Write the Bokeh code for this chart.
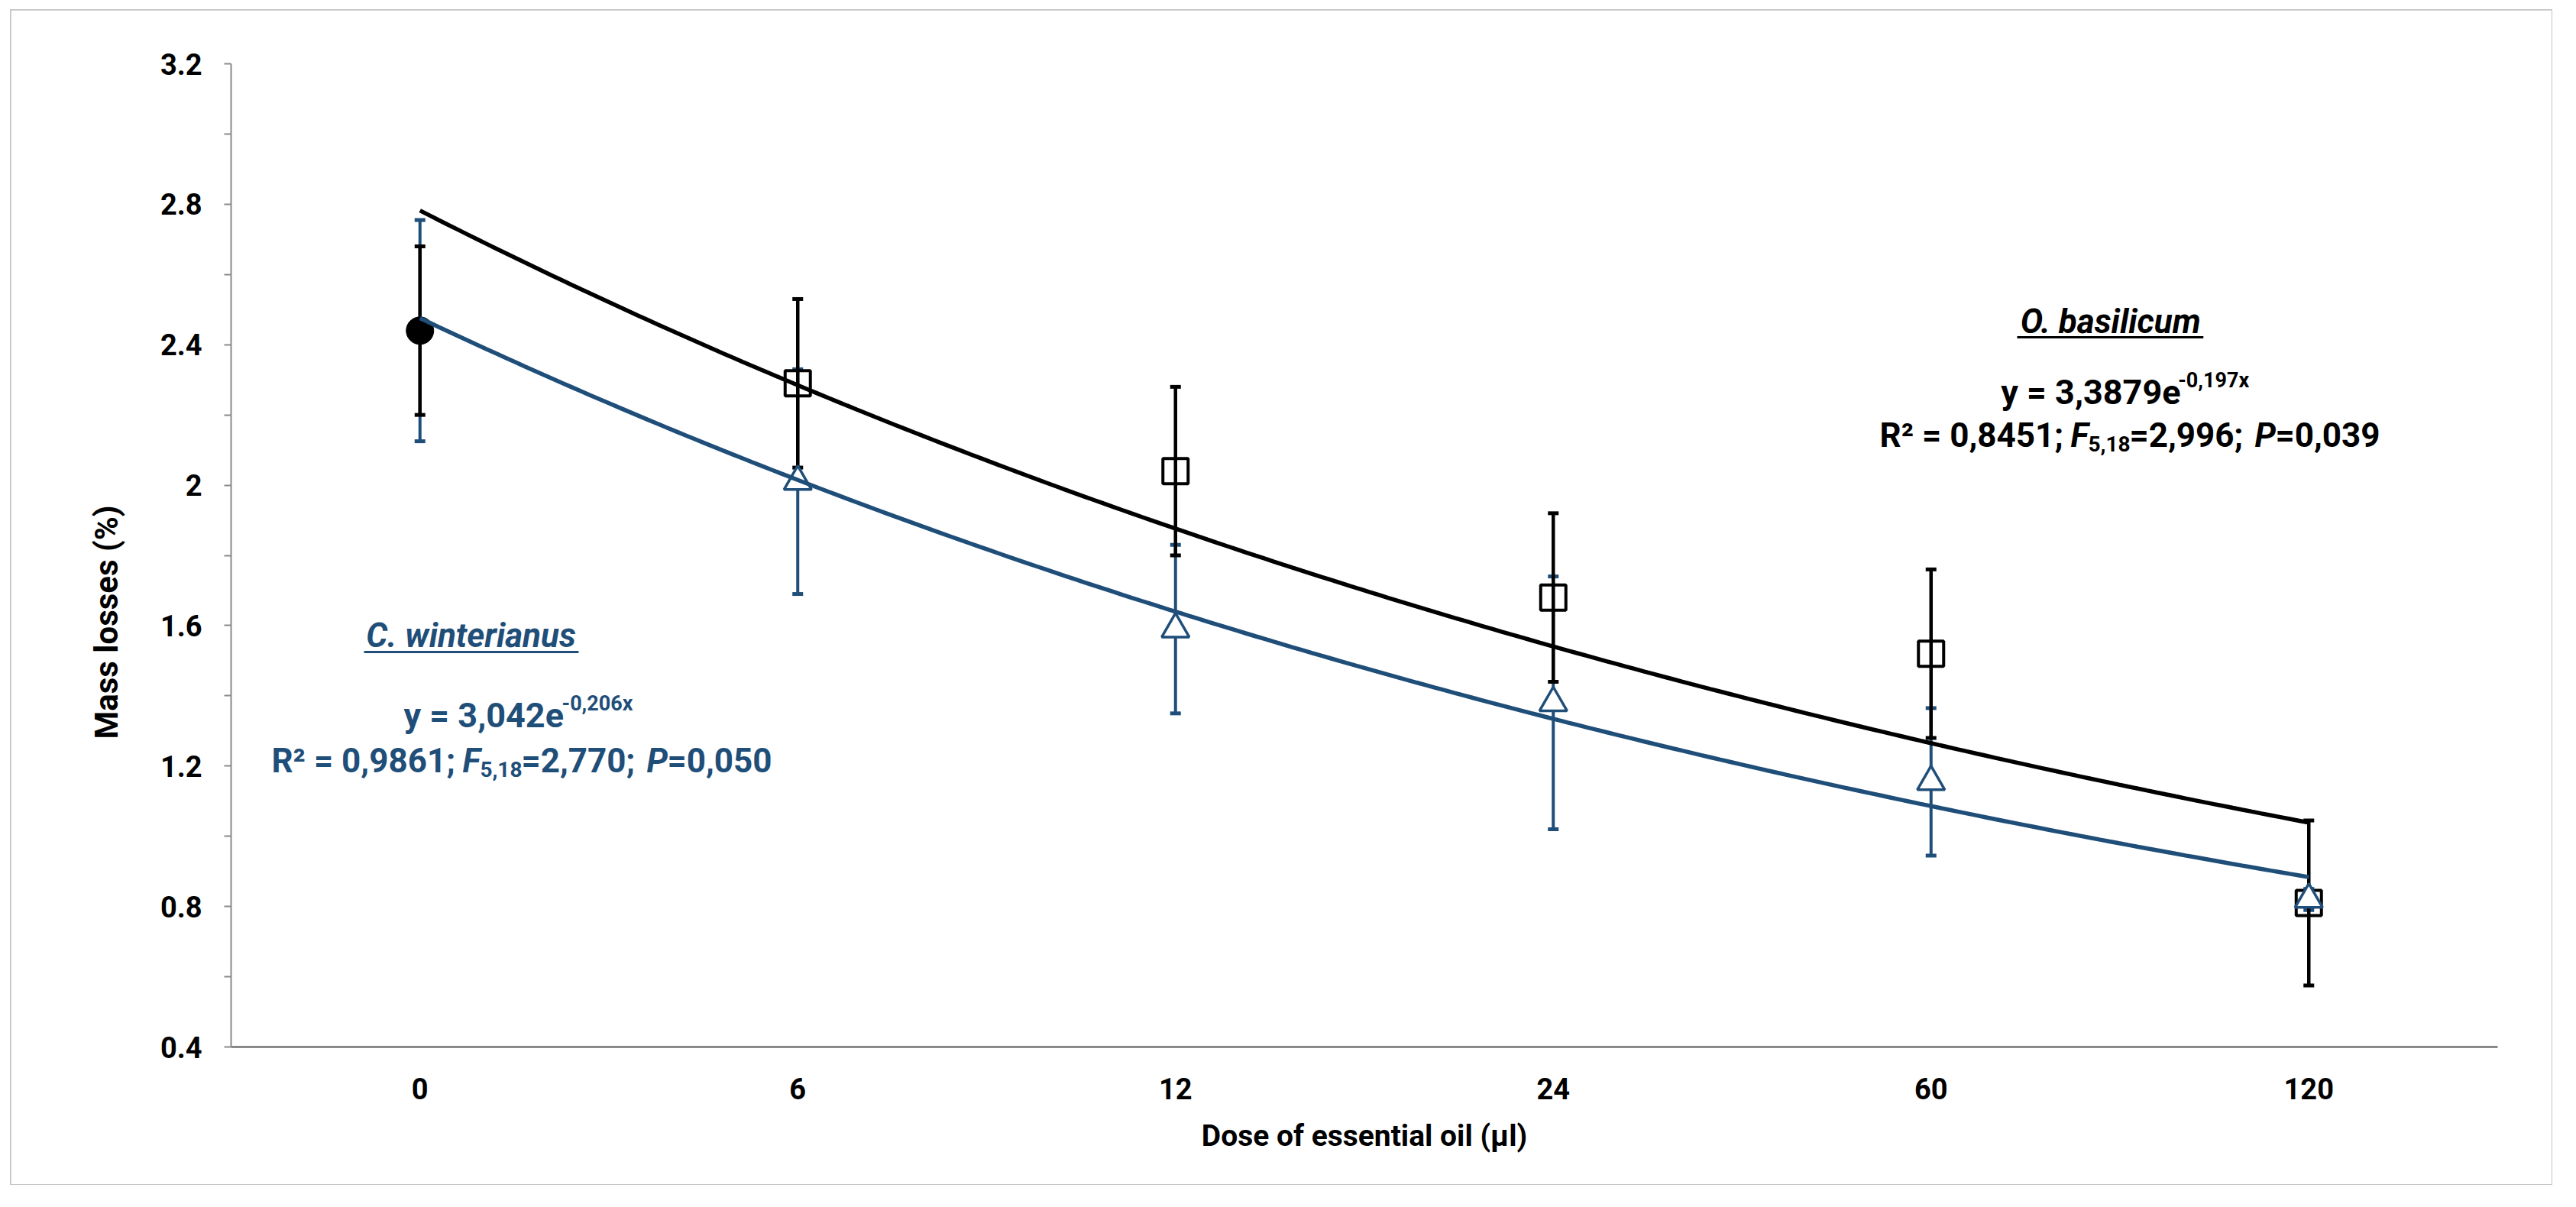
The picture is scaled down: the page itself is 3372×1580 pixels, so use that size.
import numpy as np
from bokeh.plotting import figure
from bokeh.models import Range1d, FixedTicker, Whisker, TeeHead, ColumnDataSource, Title
from bokeh.core.properties import value
from bokeh.embed import file_html
from bokeh.resources import INLINE

# ---------------- data ----------------
doses = ["0", "6", "12", "24", "60", "120"]          # tick labels (Excel category axis)
cat_pos = [1, 2, 3, 4, 5, 6]                          # category index used by the Excel trendline
basil_mean = [2.44, 2.29, 2.04, 1.68, 1.52, 0.81]     # O. basilicum
basil_err = [0.24, 0.24, 0.24, 0.24, 0.24, 0.235]
citro_mean = [2.44, 2.01, 1.59, 1.38, 1.155, 0.82]    # C. winterianus
citro_err = [0.315, 0.32, 0.24, 0.36, 0.21, 0.03]
basil_fit = [3.3879, -0.197]                          # y = a*exp(b*x) as printed
citro_fit = [3.042, -0.206]
y_ticks = [0.4, 0.8, 1.2, 1.6, 2, 2.4, 2.8, 3.2]
y_minor = [0.6, 1.0, 1.4, 1.8, 2.2, 2.6, 3.0]

BLUE = "#1F4E79"
AXIS = "#8a8a8a"
FONT = "Roboto"

p = figure(width=3326, height=1537, x_range=Range1d(0.5, 6.5), y_range=Range1d(0.4, 3.2),
           output_backend="svg", toolbar_location=None,
           min_border_left=288, min_border_right=71, min_border_top=70, min_border_bottom=180)
p.margin = (13, 0, 0, 14)
p.styles = {"outline": "3px solid #c4c4c4", "outline-offset": "-2px"}
p.xgrid.visible = False
p.ygrid.visible = False
p.outline_line_color = None
p.background_fill_color = "white"
p.border_fill_color = "white"

# y axis
p.yaxis.ticker = FixedTicker(ticks=y_ticks, minor_ticks=y_minor)
p.yaxis.major_label_overrides = {t: str(t) for t in y_ticks}
p.yaxis.axis_line_color = AXIS
p.yaxis.axis_line_width = 2
p.yaxis.major_tick_line_color = AXIS
p.yaxis.minor_tick_line_color = AXIS
p.yaxis.major_tick_line_width = 2
p.yaxis.minor_tick_line_width = 2
p.yaxis.major_tick_out = 9
p.yaxis.major_tick_in = 0
p.yaxis.minor_tick_out = 9
p.yaxis.minor_tick_in = 0
p.yaxis.major_label_standoff = 29
p.yaxis.major_label_text_font = FONT
p.yaxis.major_label_text_font_style = "bold"
p.yaxis.major_label_text_font_size = "38px"
p.yaxis.major_label_text_color = "black"

# x axis
p.xaxis.ticker = FixedTicker(ticks=cat_pos, minor_ticks=[])
p.xaxis.major_label_overrides = {k: d for k, d in zip(cat_pos, doses)}
p.xaxis.axis_line_color = AXIS
p.xaxis.axis_line_width = 3
p.xaxis.major_tick_out = 0
p.xaxis.major_tick_in = 0
p.xaxis.minor_tick_line_color = None
p.xaxis.major_label_standoff = 40
p.xaxis.major_label_text_font = FONT
p.xaxis.major_label_text_font_style = "bold"
p.xaxis.major_label_text_font_size = "38px"
p.xaxis.major_label_text_color = "black"
p.xaxis.axis_label = "Dose of essential oil (µl)"
p.xaxis.axis_label_text_font = FONT
p.xaxis.axis_label_text_font_style = "bold"
p.xaxis.axis_label_text_font_size = "39px"
p.xaxis.axis_label_text_color = "black"
p.xaxis.axis_label_standoff = 22

# y axis title, placed like the original (below the axis centre)
p.add_layout(Title(text="Mass losses (%)", align="left", offset=403, standoff=86,
                   text_font=FONT, text_font_style="bold", text_font_size="42px",
                   text_color="black"), "left")

# ---------------- error bars ----------------
def bars(mean, err, color, width):
    src = ColumnDataSource(dict(x=cat_pos, lo=[m - e for m, e in zip(mean, err)],
                                hi=[m + e for m, e in zip(mean, err)]))
    w = Whisker(base="x", upper="hi", lower="lo", source=src, line_color=color, line_width=width,
                upper_head=TeeHead(size=14, line_color=color, line_width=5),
                lower_head=TeeHead(size=14, line_color=color, line_width=5))
    p.add_layout(w)

bars(citro_mean, citro_err, BLUE, 4)
bars(basil_mean, basil_err, "black", 4.5)

# ---------------- markers ----------------
p.scatter(x=cat_pos[1:], y=basil_mean[1:], marker="square", size=33,
          fill_color=None, line_color="black", line_width=4)
p.scatter(x=cat_pos[1:], y=citro_mean[1:], marker="triangle", size=36,
          fill_color="white", line_color=BLUE, line_width=3.5)
p.scatter(x=cat_pos[:1], y=basil_mean[:1], marker="circle", size=36,
          fill_color="black", line_color="black")

# ---------------- exponential trendlines (printed equations) ----------------
xx = np.linspace(cat_pos[0], cat_pos[-1], 200)
p.line(xx, basil_fit[0] * np.exp(basil_fit[1] * xx), line_color="black", line_width=5.5)
p.line(xx, citro_fit[0] * np.exp(citro_fit[1] * xx), line_color=BLUE, line_width=5.5)

# ---------------- annotations ----------------
BASE_FIX = 0.34   # Bokeh places an 'alphabetic' baseline this many em too low here


def put(x, y, text, dx=0, dy=0, size=44, style="bold", color="black", align="left", line_size=None):
    ls = line_size if line_size else size
    p.text(x=[x], y=[y], text=[text], x_offset=dx, y_offset=dy - BASE_FIX * ls,
           text_font=value(FONT), text_font_size=f"{size}px", text_font_style=style,
           text_color=color, text_align=align, text_baseline="alphabetic", text_line_height=1.0)


def stats_line(x, y, r2, f, pval, color):
    put(x, y, "R\u00b2 = " + r2 + ";", color=color)
    put(x, y, "F", dx=250, style="bold italic", color=color)
    put(x, y, "5,18", dx=273, dy=11, size=28, color=color, line_size=44)
    put(x, y, "=" + f + ";", dx=327, color=color)
    put(x, y, "P", dx=491, style="bold italic", color=color)
    put(x, y, "=" + pval, dx=518, color=color)


def eq_line(x, y, a, b, dx_sup, color):
    put(x, y, "y = " + a + "e", size=45, color=color)
    put(x, y, b + "x", dx=dx_sup, dy=-15, size=27, color=color, line_size=45)


# C. winterianus (blue)
put(1.135, 1.540, "C. winterianus", size=44, style="bold italic", color=BLUE, align="center")
p.segment(x0=[0.852], y0=[1.525], x1=[1.420], y1=[1.525], line_color=BLUE, line_width=3)
eq_line(0.957, 1.312, "3,042", "-0,206", 207, BLUE)
stats_line(0.607, 1.183, "0,9861", "2,770", "0,050", BLUE)

# O. basilicum (black)
put(5.475, 2.434, "O. basilicum", size=44, style="bold italic", color="black", align="center")
p.segment(x0=[5.228], y0=[2.421], x1=[5.721], y1=[2.421], line_color="black", line_width=3)
eq_line(5.185, 2.232, "3,3879", "-0,197", 232, "black")
stats_line(4.864, 2.108, "0,8451", "2,996", "0,039", "black")

open("out.html", "w").write(file_html(p, INLINE))
